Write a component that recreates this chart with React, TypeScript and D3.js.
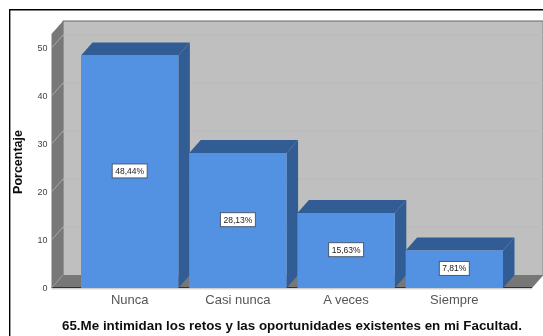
import React from "react";
import * as d3 from "d3";

const categories = ["Nunca", "Casi nunca", "A veces", "Siempre"];
const values = [48.44, 28.13, 15.63, 7.81];
const valueLabels = ["48,44%", "28,13%", "15,63%", "7,81%"];
const yTicks = [0, 10, 20, 30, 40, 50];
const yTitle = "Porcentaje";
const xTitle = "65.Me intimidan los retos y las oportunidades existentes en mi Facultad.";

const DX = 11.5;
const DY = -13;
const FONT = "'Liberation Sans', Arial, sans-serif";

export default function App() {
  const y = d3.scaleLinear().domain([0, 50]).range([288, 48]);
  const x = d3.scaleBand<string>().domain(categories).range([81, 503]).paddingInner(0.1).paddingOuter(0);
  const left = 51.5;
  const right = 532;
  const floorY = y(0);
  const topY = 34;
  return (
    <svg width={543} height={336} style={{ position: "absolute", left: 0, top: 0, background: "#fff" }}>
      <defs>
        <filter id="soft" x="0" y="0" width="100%" height="100%">
          <feGaussianBlur stdDeviation="0.7" />
        </filter>
      </defs>
      <g filter="url(#soft)">
        <path d={`M9.5 336V9.5H543`} fill="none" stroke="#000" strokeWidth={1.8} />
        {/* back wall */}
        <rect x={left + DX} y={topY + DY} width={right - left} height={floorY - topY} fill="#bfbfbf" />
        <path d={`M${left + DX} ${floorY + DY}V${topY + DY}H543`} fill="none" stroke="#666" strokeWidth={1} />
        <line x1={right + DX - 0.5} x2={right + DX - 0.5} y1={topY + DY} y2={floorY + DY} stroke="#888" />
        {/* left wall */}
        <polygon
          points={`${left},${topY} ${left + DX},${topY + DY} ${left + DX},${floorY + DY} ${left},${floorY}`}
          fill="#787878"
        />
        {/* floor */}
        <polygon
          points={`${left},${floorY} ${left + DX},${floorY + DY} ${right + DX},${floorY + DY} ${right},${floorY}`}
          fill="#777"
        />
        <line x1={left} x2={right} y1={floorY - 0.5} y2={floorY - 0.5} stroke="#333" strokeWidth={1} />
        <line x1={left} x2={right} y1={floorY + 0.8} y2={floorY + 0.8} stroke="#bbb" strokeWidth={1} />
        {/* grid */}
        {yTicks.filter((t) => t > 0).map((t) => (
          <g key={t}>
            <line x1={left + DX} x2={right + DX} y1={y(t) + DY} y2={y(t) + DY} stroke="#bababa" />
            <line x1={left} x2={left + DX} y1={y(t)} y2={y(t) + DY} stroke="#a8a8a8" />
          </g>
        ))}
        <line x1={left} x2={left + DX} y1={floorY} y2={floorY + DY} stroke="#999" />
        {/* y ticks */}
        {yTicks.map((t) => (
          <text key={t} x={47.5} y={y(t) + 3} textAnchor="end" fontSize={9} fontFamily={FONT} fill="#444">
            {t}
          </text>
        ))}
        {/* bars */}
        {categories.map((c, i) => {
          const x0 = x(c) as number;
          const w = x.bandwidth();
          const top = y(values[i]);
          return (
            <g key={c}>
              <polygon
                points={`${x0},${top} ${x0 + DX},${top + DY} ${x0 + w + DX},${top + DY} ${x0 + w},${top}`}
                fill="#335c94"
              />
              <polygon
                points={`${x0 + w},${top} ${x0 + w + DX},${top + DY} ${x0 + w + DX},${floorY + DY} ${x0 + w},${floorY}`}
                fill="#335c94"
              />
              <rect x={x0} y={top} width={w} height={floorY - top} fill="#5292e3" />
            </g>
          );
        })}
        {/* value labels */}
        {categories.map((c, i) => {
          const cx = (x(c) as number) + x.bandwidth() / 2;
          const cy = y(values[i] / 2) - 0.8;
          const bw = i === 3 ? 30 : 35;
          return (
            <g key={c}>
              <rect x={cx - bw / 2} y={cy - 7} width={bw} height={14} fill="#fff" stroke="#4a5a70" strokeWidth={1} />
              <text x={cx} y={cy + 3} textAnchor="middle" fontSize={8.5} fontFamily={FONT} fill="#222">
                {valueLabels[i]}
              </text>
            </g>
          );
        })}
        {/* category labels */}
        {categories.map((c) => (
          <text
            key={c}
            x={(x(c) as number) + x.bandwidth() / 2}
            y={304}
            textAnchor="middle"
            fontSize={13}
            fontFamily={FONT}
            fill="#555"
          >
            {c}
          </text>
        ))}
        <text
          transform="translate(22,162) rotate(-90)"
          textAnchor="middle"
          fontSize={12.5}
          fontWeight="bold"
          fontFamily={FONT}
          fill="#111"
        >
          {yTitle}
        </text>
        <text
          x={292}
          y={329.5}
          textAnchor="middle"
          fontSize={12}
          fontWeight="bold"
          fontFamily={FONT}
          fill="#111"
          textLength={460}
          lengthAdjust="spacingAndGlyphs"
        >
          {xTitle}
        </text>
      </g>
    </svg>
  );
}
